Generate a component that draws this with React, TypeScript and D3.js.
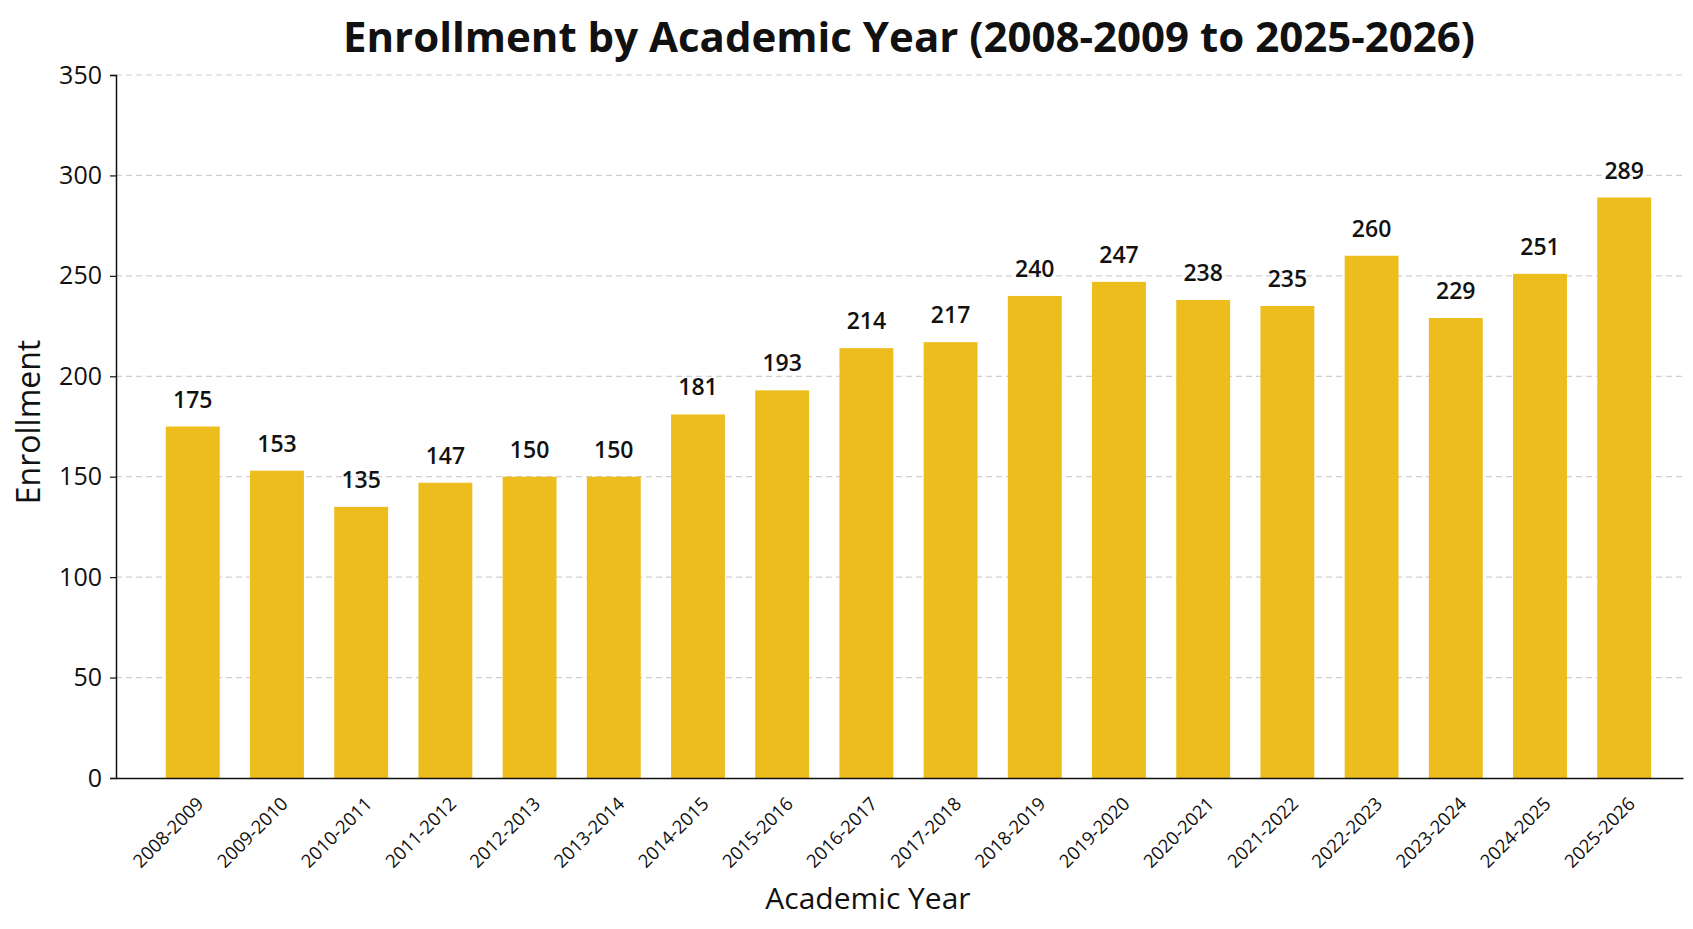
import { useEffect, useRef } from "react";
import * as d3 from "d3";

const years = [
  "2008-2009", "2009-2010", "2010-2011", "2011-2012", "2012-2013", "2013-2014",
  "2014-2015", "2015-2016", "2016-2017", "2017-2018", "2018-2019", "2019-2020",
  "2020-2021", "2021-2022", "2022-2023", "2023-2024", "2024-2025", "2025-2026",
];
const enrollment = [
  175, 153, 135, 147, 150, 150, 181, 193, 214, 217, 240, 247, 238, 235, 260, 229, 251, 289,
];
const yTicks = [0, 50, 100, 150, 200, 250, 300, 350];

const W = 1693;
const H = 929;
const FONT = "'Open Sans', 'Noto Sans', sans-serif";

const App = () => {
  const ref = useRef<SVGSVGElement | null>(null);

  useEffect(() => {
    document.body.style.margin = "0";
    if (!ref.current) return;

    const svg = d3.select(ref.current);
    svg.selectAll("*").remove();

    const margin = { top: 75, right: 10, bottom: 151, left: 116 };
    const x0 = margin.left;
    const x1 = W - margin.right;
    const y0 = H - margin.bottom;

    const x = d3
      .scaleBand()
      .domain(years)
      .range([x0, x1])
      .paddingInner(0.36)
      .paddingOuter(0.485)
      .align(0.61);

    const y = d3.scaleLinear().domain([0, 350]).range([y0, margin.top]);

    svg.append("rect").attr("width", W).attr("height", H).attr("fill", "#fff");

    // grid
    svg.append("g")
      .selectAll("line")
      .data(yTicks.filter(t => t > 0))
      .join("line")
      .attr("x1", x0)
      .attr("x2", x1)
      .attr("y1", d => y(d))
      .attr("y2", d => y(d))
      .attr("stroke", "#cfcfcf")
      .attr("stroke-width", 1.2)
      .attr("stroke-dasharray", "6,4");

    // bars
    svg.append("g")
      .selectAll("rect")
      .data(enrollment)
      .join("rect")
      .attr("x", (_, i) => x(years[i])!)
      .attr("y", d => y(d))
      .attr("width", x.bandwidth())
      .attr("height", d => y(0) - y(d))
      .attr("fill", "#EDBD1D");

    // value labels
    svg.append("g")
      .selectAll("text")
      .data(enrollment)
      .join("text")
      .attr("x", (_, i) => x(years[i])! + x.bandwidth() / 2)
      .attr("y", d => y(d) - 19)
      .attr("text-anchor", "middle")
      .attr("font-family", FONT)
      .attr("font-size", 23)
      .attr("font-weight", 600)
      .attr("fill", "#111")
      .text(d => d);

    // y axis
    const yAxis = svg.append("g")
      .attr("transform", `translate(${x0},0)`)
      .call(d3.axisLeft(y).tickValues(yTicks).tickSize(6).tickPadding(8));
    yAxis.select(".domain").attr("stroke", "#111").attr("stroke-width", 1.5);
    yAxis.selectAll(".tick line").attr("stroke", "#111").attr("stroke-width", 1.2);
    yAxis.selectAll("text")
      .attr("font-family", FONT)
      .attr("font-size", 25)
      .attr("fill", "#111");

    // x axis
    const xAxis = svg.append("g")
      .attr("transform", `translate(0,${y0})`)
      .call(d3.axisBottom(x).tickSize(0).tickSizeOuter(0));
    xAxis.select(".domain").attr("stroke", "#111").attr("stroke-width", 1.5);
    xAxis.selectAll("text")
      .attr("font-family", FONT)
      .attr("font-size", 18.5)
      .attr("fill", "#111")
      .attr("dy", null)
      .attr("y", null)
      .attr("text-anchor", "end")
      .attr("transform", `translate(12,27) rotate(-45)`);

    // titles
    svg.append("text")
      .attr("x", 909)
      .attr("y", 52)
      .attr("text-anchor", "middle")
      .attr("font-family", FONT)
      .attr("font-size", 42)
      .attr("font-weight", 700)
      .attr("fill", "#111")
      .text("Enrollment by Academic Year (2008-2009 to 2025-2026)");

    svg.append("text")
      .attr("x", 868)
      .attr("y", 909)
      .attr("text-anchor", "middle")
      .attr("font-family", FONT)
      .attr("font-size", 30)
      .attr("fill", "#111")
      .text("Academic Year");

    svg.append("text")
      .attr("transform", `translate(40,422) rotate(-90)`)
      .attr("text-anchor", "middle")
      .attr("font-family", FONT)
      .attr("font-size", 32)
      .attr("fill", "#111")
      .text("Enrollment");
  }, []);

  return <svg ref={ref} width={W} height={H} style={{ display: "block" }} />;
};

export default App;
